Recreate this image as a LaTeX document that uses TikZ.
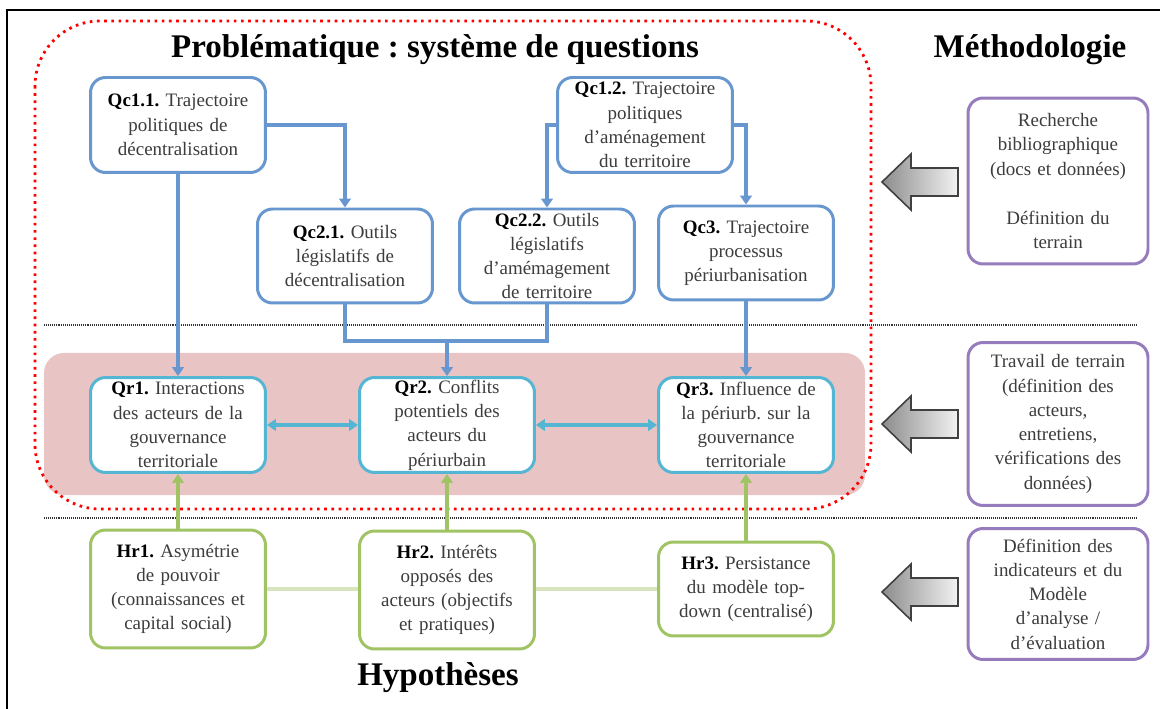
\documentclass[tikz,border=0pt]{standalone}
\usepackage{fontspec}
\setmainfont{Liberation Serif}
\usetikzlibrary{positioning,arrows.meta}

\definecolor{qblue}{RGB}{103,151,206}
\definecolor{rcyan}{RGB}{84,182,210}
\definecolor{hgreen}{RGB}{160,196,100}
\definecolor{hgreenlight}{RGB}{215,228,189}
\definecolor{mpurple}{RGB}{150,124,188}
\definecolor{bandpink}{RGB}{232,196,196}
\definecolor{boxtext}{RGB}{60,60,60}
\newcommand{\boxlabel}[1]{\textbf{\color{black}#1}}
\frenchspacing

\tikzset{
        box/.style={rounded corners=0.3cm, line width=1.7pt, fill=white, minimum width=3.5cm,
                text width=3.3cm, align=center, inner sep=0pt, text=boxtext,
                font=\fontsize{10.8}{13.8}\selectfont},
        qbox/.style={box, draw=qblue},
        rbox/.style={box, draw=rcyan},
        hbox/.style={box, draw=hgreen},
        mbox/.style={box, draw=mpurple, minimum width=3.6cm, text width=3.4cm},
        titletext/.style={font=\fontsize{18.8}{22}\selectfont\bfseries, inner sep=0pt},
        qarrow/.style={draw=qblue, line width=1.8pt, -{Triangle[width=6.5pt,length=5pt]}},
        qline/.style={draw=qblue, line width=1.8pt},
        rarrow/.style={draw=rcyan, line width=1.8pt, {Triangle[width=6.5pt,length=5pt]}-{Triangle[width=6.5pt,length=5pt]}},
        harrow/.style={draw=hgreen, line width=1.8pt, -{Triangle[width=6.5pt,length=5pt]}},
        hline/.style={draw=hgreenlight, line width=1.8pt},
        sepline/.style={draw=black!80, line width=0.7pt, dash pattern=on 0.5pt off 0.6pt},
        blockarrow/.style={draw=black!75, line width=0.9pt, left color=black!45, right color=black!5},
}

\begin{document}
\begin{tikzpicture}[x=0.02cm, y=-0.02cm]
        \useasboundingbox (0,0) rectangle (1163,709);
        \draw [line width=0.8pt] (7,709) -- (7,10) -- (1160,10);

        \fill [bandpink] (44,353) [rounded corners=0.4cm] rectangle (865,495);
        \draw [red, line width=1.6pt, dash pattern=on 1.5pt off 2.6pt, rounded corners=1.3cm] (35,21) rectangle (871,509);
        \draw [sepline] (44,325) -- (1136,325);
        \draw [sepline] (44,518) -- (1136,518);

        \node (probtitle) [titletext] at (435,50) {Problématique : système de questions};
        \node (methtitle) [titletext] at (1030,50) {Méthodologie};
        \node (hyptitle) [titletext] at (438,678) {Hypothèses};

        \node (qc11) [qbox, minimum height=1.9cm] at (178,125) {\boxlabel{Qc1.1.} Trajectoire\\politiques de\\décentralisation};
        \node (qc12) [qbox, minimum height=1.9cm] at (645,125) {\boxlabel{Qc1.2.} Trajectoire\\politiques\\d’aménagement\\du territoire};
        \node (qc21) [qbox, minimum height=1.88cm] at (345,256) {\boxlabel{Qc2.1.} Outils\\législatifs de\\décentralisation};
        \node (qc22) [qbox, minimum height=1.88cm] at (547,256) {\boxlabel{Qc2.2.} Outils\\législatifs\\d’amémagement\\de territoire};
        \node (qc3) [qbox, minimum height=1.88cm] at (746,253) {\boxlabel{Qc3.} Trajectoire\\processus\\périurbanisation};

        \node (qr1) [rbox, minimum height=1.9cm] at (178,425) {\boxlabel{Qr1.} Interactions\\des acteurs de la\\gouvernance\\territoriale};
        \node (qr2) [rbox, minimum height=1.9cm] at (447,425) {\boxlabel{Qr2.} Conflits\\potentiels des\\acteurs du\\périurbain};
        \node (qr3) [rbox, minimum height=1.9cm] at (746,425) {\boxlabel{Qr3.} Influence de\\la périurb. sur la\\gouvernance\\territoriale};

        \node (hr1) [hbox, minimum height=2.36cm] at (178,589) {\boxlabel{Hr1.} Asymétrie\\de pouvoir\\(connaissances et\\capital social)};
        \node (hr2) [hbox, minimum height=2.36cm] at (447,590) {\boxlabel{Hr2.} Intérêts\\opposés des\\acteurs (objectifs\\et pratiques)};
        \node (hr3) [hbox, minimum height=1.88cm] at (746,589) {\boxlabel{Hr3.} Persistance\\du modèle top-\\down (centralisé)};

        \node (rech) [mbox, minimum height=3.32cm] at (1058,181) {Recherche\\bibliographique\\(docs et données)\\[14pt]Définition du\\terrain};
        \node (trav) [mbox, minimum height=3.26cm] at (1058,424) {Travail de terrain\\(définition des\\acteurs,\\entretiens,\\vérifications des\\données)};
        \node (defi) [mbox, minimum height=2.62cm] at (1058,594) {Définition des\\indicateurs et du\\Modèle\\d’analyse /\\d’évaluation};

        \coordinate (qjoin) at (447,341);
        \draw [qarrow] (qc11.east) -| (qc21.north);
        \draw [qarrow] (qc12.west) -| (qc22.north);
        \draw [qarrow] (qc12.east) -| (qc3.north);
        \draw [qarrow] (qc11) -- (qr1);
        \draw [qline] (qc21.south) |- (qjoin) -| (qc22.south);
        \draw [qarrow] (qjoin) -- (qr2.north);
        \draw [qarrow] (qc3) -- (qr3);

        \draw [rarrow] (qr1) -- (qr2);
        \draw [rarrow] (qr2) -- (qr3);

        \draw [hline] (hr1.east) -- (hr1.east -| hr2.west);
        \draw [hline] (hr2.east |- hr1.east) -- (hr1.east -| hr3.west);
        \draw [harrow] (hr1) -- (qr1);
        \draw [harrow] (hr2) -- (qr2);
        \draw [harrow] (hr3) -- (qr3);

        \foreach \ay in {182,424,592}
                \draw [blockarrow] (958,\ay-14) -- (911,\ay-14) -- (911,\ay-28) -- (882,\ay)
                        -- (911,\ay+28) -- (911,\ay+14) -- (958,\ay+14) -- cycle;
\end{tikzpicture}
\end{document}
